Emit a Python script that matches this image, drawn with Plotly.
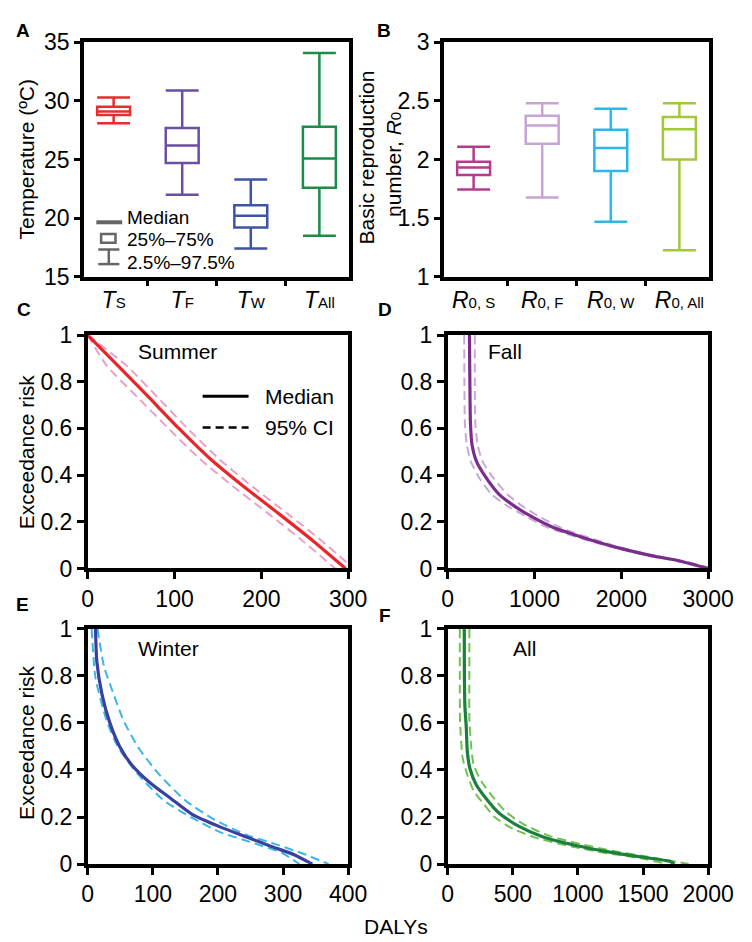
import plotly.graph_objects as go

W, H = 752, 942
FONT = "Arial, Liberation Sans, sans-serif"

# ---------------- data ----------------
temp_cats = ["<i>T</i><span style='font-size:15px'>S</span>",
             "<i>T</i><span style='font-size:15px'>F</span>",
             "<i>T</i><span style='font-size:15px'>W</span>",
             "<i>T</i><span style='font-size:15px'>All</span>"]
temp_lower = [28.1, 22.0, 17.4, 18.5]
temp_q1 = [28.8, 24.7, 19.2, 22.6]
temp_median = [29.1, 26.2, 20.2, 25.1]
temp_q3 = [29.5, 27.7, 21.1, 27.8]
temp_upper = [30.3, 30.9, 23.3, 34.1]
temp_colors = ["#E62E2D", "#6B4FA1", "#3F54A6", "#1C8C48"]

r0_cats = ["<i>R</i><span style='font-size:15px'>0, S</span>",
           "<i>R</i><span style='font-size:15px'>0, F</span>",
           "<i>R</i><span style='font-size:15px'>0, W</span>",
           "<i>R</i><span style='font-size:15px'>0, All</span>"]
r0_lower = [1.745, 1.676, 1.469, 1.226]
r0_q1 = [1.869, 2.134, 1.902, 2.001]
r0_median = [1.932, 2.291, 2.098, 2.258]
r0_q3 = [1.982, 2.374, 2.255, 2.363]
r0_upper = [2.109, 2.481, 2.434, 2.481]
r0_colors = ["#B33C8F", "#C6A5D5", "#2CB7E8", "#A3C83C"]

summer_median_x = [0, 35, 70, 105, 141, 180, 220, 260, 297]
summer_median_y = [1.0, 0.868, 0.735, 0.60, 0.47, 0.35, 0.235, 0.117, 0.0]
summer_left_x = [0, 22, 57, 93, 129, 168, 208, 248, 285]
summer_left_y = [1.0, 0.868, 0.735, 0.60, 0.47, 0.35, 0.235, 0.117, 0.0]
summer_right_x = [0, 45, 80, 115, 151, 190, 230, 270, 300]
summer_right_y = [1.0, 0.868, 0.735, 0.60, 0.47, 0.35, 0.235, 0.117, 0.02]

fall_median_x = [250, 255, 262, 280, 330, 440, 586, 769, 952, 1209, 1392, 1648, 1978, 2344, 2674, 3000]
fall_median_y = [1.0, 0.8, 0.62, 0.53, 0.46, 0.39, 0.32, 0.267, 0.225, 0.177, 0.153, 0.122, 0.087, 0.055, 0.032, 0.0]
fall_left_x = [190, 192, 198, 220, 265, 360, 500, 690, 890, 1140, 1330, 1600, 1940, 2310, 2640, 2960]
fall_left_y = [1.0, 0.8, 0.62, 0.53, 0.46, 0.39, 0.32, 0.267, 0.225, 0.177, 0.153, 0.122, 0.087, 0.055, 0.032, 0.0]
fall_right_x = [312, 312, 318, 345, 400, 520, 680, 860, 1040, 1290, 1460, 1710, 2020, 2380, 2710, 3000]
fall_right_y = [1.0, 0.8, 0.62, 0.53, 0.46, 0.39, 0.32, 0.267, 0.225, 0.177, 0.153, 0.122, 0.087, 0.055, 0.032, 0.005]

winter_median_x = [12, 14, 22, 34, 49, 68, 98, 127, 161, 205, 244, 283, 317, 345]
winter_median_y = [1.0, 0.86, 0.72, 0.60, 0.50, 0.42, 0.34, 0.28, 0.21, 0.156, 0.115, 0.074, 0.04, 0.0]
winter_left_x = [6, 12, 29, 46, 76, 117, 161, 203, 254, 300, 325]
winter_left_y = [1.0, 0.79, 0.61, 0.50, 0.385, 0.27, 0.195, 0.136, 0.09, 0.045, 0.0]
winter_right_x = [15, 25, 40, 55, 79, 110, 150, 194, 242, 286, 330, 370]
winter_right_y = [1.0, 0.84, 0.72, 0.61, 0.49, 0.38, 0.27, 0.19, 0.126, 0.087, 0.045, 0.0]

all_median_x = [127, 128, 132, 142, 151, 171, 220, 293, 391, 537, 733, 977, 1221, 1465, 1709, 1740]
all_median_y = [1.0, 0.8, 0.67, 0.585, 0.474, 0.405, 0.336, 0.28, 0.218, 0.163, 0.115, 0.08, 0.053, 0.032, 0.011, 0.0]
all_left_x = [93, 93, 95, 115, 150, 200, 270, 360, 500, 700, 950, 1200, 1450, 1650]
all_left_y = [1.0, 0.8, 0.6, 0.45, 0.38, 0.31, 0.26, 0.2, 0.15, 0.108, 0.075, 0.048, 0.028, 0.005]
all_right_x = [166, 166, 166, 180, 200, 260, 340, 440, 580, 780, 1020, 1280, 1550, 1850]
all_right_y = [1.0, 0.8, 0.62, 0.5, 0.42, 0.35, 0.29, 0.225, 0.17, 0.12, 0.085, 0.055, 0.03, 0.0]

curve_panels = [
    dict(name="Summer", mx=summer_median_x, my=summer_median_y, lx=summer_left_x, ly=summer_left_y,
         rx=summer_right_x, ry=summer_right_y, mc="#E8272A", cc="#EBA0C8", xr=[0, 300], dt=100),
    dict(name="Fall", mx=fall_median_x, my=fall_median_y, lx=fall_left_x, ly=fall_left_y,
         rx=fall_right_x, ry=fall_right_y, mc="#7B2D8B", cc="#C9A9DA", xr=[0, 3000], dt=1000),
    dict(name="Winter", mx=winter_median_x, my=winter_median_y, lx=winter_left_x, ly=winter_left_y,
         rx=winter_right_x, ry=winter_right_y, mc="#3B3F9E", cc="#3DB5E6", xr=[0, 400], dt=100),
    dict(name="All", mx=all_median_x, my=all_median_y, lx=all_left_x, ly=all_left_y,
         rx=all_right_x, ry=all_right_y, mc="#1B7F3E", cc="#72C250", xr=[0, 2000], dt=500),
]


def px(x):
    return x / W


def py(y):
    return 1 - y / H


# plot rectangles (pixels): left, right, top, bottom
rects = {
    1: (73, 350, 22, 263),
    2: (449, 726, 22, 263),
    3: (77, 349, 323, 563),
    4: (453, 725, 323, 563),
    5: (77, 349, 625, 867),
    6: (453, 725, 625, 867),
}

fig = go.Figure()

# box plots
for i, c in enumerate(temp_cats):
    fig.add_trace(go.Box(x=[c], q1=[temp_q1[i]], median=[temp_median[i]], q3=[temp_q3[i]],
                         lowerfence=[temp_lower[i]], upperfence=[temp_upper[i]],
                         line=dict(color=temp_colors[i], width=2.5), fillcolor="rgba(0,0,0,0)",
                         whiskerwidth=1, width=0.48, boxpoints=False, showlegend=False,
                         xaxis="x", yaxis="y"))
for i, c in enumerate(r0_cats):
    fig.add_trace(go.Box(x=[c], q1=[r0_q1[i]], median=[r0_median[i]], q3=[r0_q3[i]],
                         lowerfence=[r0_lower[i]], upperfence=[r0_upper[i]],
                         line=dict(color=r0_colors[i], width=2.5), fillcolor="rgba(0,0,0,0)",
                         whiskerwidth=1, width=0.48, boxpoints=False, showlegend=False,
                         xaxis="x2", yaxis="y2"))

# exceedance curves
for k, p in enumerate(curve_panels):
    ax = k + 3
    xa, ya = f"x{ax}", f"y{ax}"
    for cx, cy in ((p["lx"], p["ly"]), (p["rx"], p["ry"])):
        fig.add_trace(go.Scatter(x=cx, y=cy, mode="lines", xaxis=xa, yaxis=ya, showlegend=False,
                                 line=dict(color=p["cc"], width=2, dash="9px,5px", shape="spline", smoothing=0.6)))
    fig.add_trace(go.Scatter(x=p["mx"], y=p["my"], mode="lines", xaxis=xa, yaxis=ya, showlegend=False,
                             line=dict(color=p["mc"], width=3.2, shape="spline", smoothing=0.6)))

axis_common = dict(showline=True, linecolor="black", linewidth=3.5, mirror=True, showgrid=False,
                   zeroline=False, ticks="outside", ticklen=7, tickwidth=3, tickcolor="black",
                   tickfont=dict(family=FONT, size=23, color="black"))

layout = dict(width=W, height=H, margin=dict(l=0, r=0, t=0, b=0), plot_bgcolor="white",
              paper_bgcolor="white", font=dict(family=FONT, color="black"), showlegend=False)

for n, (l, r, t, b) in rects.items():
    xs = "xaxis" if n == 1 else f"xaxis{n}"
    ys = "yaxis" if n == 1 else f"yaxis{n}"
    xa = dict(axis_common, domain=[px(l), px(r)], anchor="y" if n == 1 else f"y{n}")
    ya = dict(axis_common, domain=[py(b), py(t)], anchor="x" if n == 1 else f"x{n}")
    if n in (1, 2):
        xa.update(type="category", tickson="boundaries", ticklen=6)
        ya.update(ticklen=6)
        if n == 1:
            ya.update(range=[15, 35], tickvals=[15, 20, 25, 30, 35])
        else:
            ya.update(range=[1, 3], tickvals=[1, 1.5, 2, 2.5, 3])
    else:
        p = curve_panels[n - 3]
        xa.update(range=p["xr"], dtick=p["dt"], tick0=0)
        ya.update(range=[0, 1], dtick=0.2, tick0=0)
    layout[xs] = xa
    layout[ys] = ya

fig.update_layout(**layout)

ann = []


def text(x, y, s, size=21, angle=0, xanchor="center"):
    ann.append(dict(x=px(x), y=py(y), xref="paper", yref="paper", text=s, showarrow=False,
                    textangle=angle, xanchor=xanchor, yanchor="middle",
                    font=dict(family=FONT, size=size, color="black")))


# panel letters
for s, x, y in (("A", 9, 10), ("B", 386, 10), ("C", 10, 297), ("D", 388, 297), ("E", 9, 600), ("F", 387, 611)):
    text(x, y, "<b>%s</b>" % s, size=19)

# axis titles
text(13, 142, "Temperature (ºC)", size=21, angle=-90)
text(368, 140, "Basic reproduction", size=21, angle=-90)
text(397, 148, "number, <i>R</i><span style='font-size:15px'>0</span>", size=21, angle=-90)
text(13, 443, "Exceedance risk", size=21, angle=-90)
text(13, 742, "Exceedance risk", size=21, angle=-90)
text(399, 931, "DALYs", size=21)

# season labels
text(127, 340, "Summer", xanchor="left")
text(493, 340, "Fall", xanchor="left")
text(127, 645, "Winter", xanchor="left")
text(519, 645, "All", xanchor="left")

# panel A legend
text(116, 202, "Median", size=19, xanchor="left")
text(116, 225, "25%–75%", size=19, xanchor="left")
text(116, 248, "2.5%–97.5%", size=19, xanchor="left")
# panel C legend
text(260, 386, "Median", size=21, xanchor="left")
text(260, 418, "95% CI", size=21, xanchor="left")

shapes = []


def seg(x0, y0, x1, y1, color, width, dash="solid"):
    shapes.append(dict(type="line", xref="paper", yref="paper", x0=px(x0), y0=py(y0), x1=px(x1), y1=py(y1),
                       line=dict(color=color, width=width, dash=dash)))


seg(86, 207, 113, 207, "#666666", 4)
shapes.append(dict(type="rect", xref="paper", yref="paper", x0=px(91), y0=py(228), x1=px(106), y1=py(219),
                   line=dict(color="#666666", width=2.5)))
seg(88, 235, 110, 235, "#666666", 2.5)
seg(99, 235, 99, 250, "#666666", 2.5)
seg(88, 250, 110, 250, "#666666", 2.5)

seg(197, 386, 245, 386, "black", 3)
seg(197, 418, 245, 418, "black", 2.5, "8px,5px")

fig.update_layout(annotations=ann, shapes=shapes)

fig.write_html("out.html")
